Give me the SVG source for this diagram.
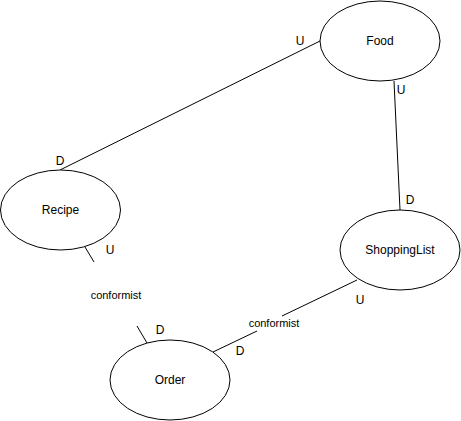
<svg xmlns="http://www.w3.org/2000/svg" width="461" height="421" viewBox="0 0 461 421">
<style>
.n{fill:#fff;stroke:#000;stroke-width:1}
.t{font-family:"Liberation Sans",Arial,sans-serif;font-size:12px;fill:#000;text-anchor:middle;dominant-baseline:central}
.l{font-family:"Liberation Sans",Arial,sans-serif;font-size:12px;fill:#000;text-anchor:middle;dominant-baseline:central}
.c{font-family:"Liberation Sans",Arial,sans-serif;font-size:11px;fill:#000;text-anchor:middle;dominant-baseline:central}
.e{stroke:#000;stroke-width:1;fill:none}
</style>
<rect width="461" height="421" fill="#fff"/>
<g id="connectors">
<line class="e" x1="320" y1="41" x2="60" y2="170"/>
<line class="e" x1="394" y1="81" x2="400" y2="210"/>
<line class="e" x1="85" y1="247" x2="94" y2="262"/>
<line class="e" x1="137" y1="326" x2="147" y2="343"/>
<line class="e" x1="357" y1="280" x2="282" y2="316"/>
<line class="e" x1="257" y1="331" x2="213" y2="352"/>
<text class="l" x="300" y="41">U</text>
<text class="l" x="60" y="161">D</text>
<text class="l" x="401" y="90">U</text>
<text class="l" x="410" y="200">D</text>
<text class="l" x="110" y="250">U</text>
<text class="l" x="160" y="330">D</text>
<text class="l" x="240" y="351">D</text>
<text class="l" x="360" y="300">U</text>
<text class="c" x="116" y="295">conformist</text>
<text class="c" x="274" y="323">conformist</text>
</g>
<g id="food"><ellipse class="n" cx="380" cy="41" rx="60" ry="40"/><text class="t" x="380" y="41">Food</text></g>
<g id="recipe"><ellipse class="n" cx="60.5" cy="210" rx="60" ry="40"/><text class="t" x="60.5" y="210">Recipe</text></g>
<g id="shoppinglist"><ellipse class="n" cx="400" cy="250" rx="60" ry="40"/><text class="t" x="400" y="250">ShoppingList</text></g>
<g id="order"><ellipse class="n" cx="170" cy="380" rx="60" ry="40"/><text class="t" x="170" y="380">Order</text></g>
</svg>
